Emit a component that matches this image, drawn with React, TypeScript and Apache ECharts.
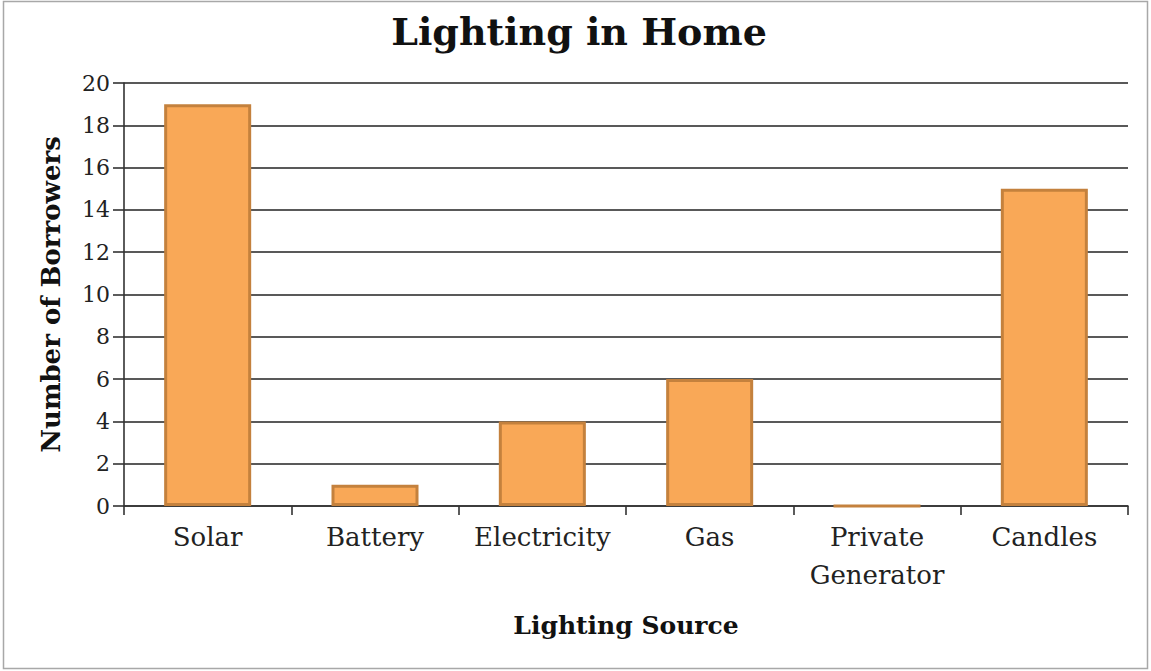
import React, { useEffect, useRef } from "react";
import * as echarts from "echarts";

const categories = ["Solar", "Battery", "Electricity", "Gas", "Private\nGenerator", "Candles"];
const borrowers = [19, 1, 4, 6, 0, 15];
const yTicks = { min: 0, max: 20, interval: 2 };

const FONT = "DejaVu Serif";

export default function App() {
  const ref = useRef<HTMLDivElement>(null);
  useEffect(() => {
    document.body.style.margin = "0";
    const chart = echarts.init(ref.current!, null, { renderer: "svg" });
    chart.setOption({
      animation: false,
      backgroundColor: "#ffffff",
      textStyle: { fontFamily: FONT },
      title: {
        text: "Lighting in Home",
        left: 574,
        textAlign: "center",
        top: 7,
        textStyle: { fontFamily: FONT, fontSize: 38, fontWeight: "bold", color: "#111" },
      },
      graphic: [
        {
          type: "rect",
          shape: { x: 3.5, y: 1.5, width: 1144, height: 667 },
          style: { fill: "none", stroke: "#a8a8a8", lineWidth: 1.5 },
          silent: true,
          z: -1,
        },
      ],
      grid: { left: 124, right: 23, top: 83, bottom: 165, containLabel: false },
      xAxis: {
        type: "category",
        data: categories,
        name: "Lighting Source",
        nameLocation: "middle",
        nameGap: 107,
        nameTextStyle: { fontFamily: FONT, fontSize: 25, fontWeight: "bold", color: "#111" },
        axisLine: { show: true, lineStyle: { color: "#333", width: 1.6 } },
        axisTick: { show: true, alignWithLabel: false, length: 9, lineStyle: { color: "#333", width: 1.6 } },
        axisLabel: { fontFamily: FONT, fontSize: 26, color: "#222", margin: 12, lineHeight: 38, interval: 0 },
        splitLine: { show: false },
      },
      yAxis: {
        type: "value",
        min: yTicks.min,
        max: yTicks.max,
        interval: yTicks.interval,
        name: "Number of Borrowers",
        nameLocation: "middle",
        nameGap: 60,
        nameTextStyle: { fontFamily: FONT, fontSize: 26, fontWeight: "bold", color: "#111" },
        axisLine: { show: true, lineStyle: { color: "#333", width: 1.6 } },
        axisTick: { show: true, inside: false, length: 11, lineStyle: { color: "#333", width: 1.6 } },
        axisLabel: { fontFamily: FONT, fontSize: 22, color: "#222", margin: 14 },
        splitLine: { show: true, lineStyle: { color: "#222", width: 1.7 } },
      },
      series: [
        {
          type: "bar",
          data: borrowers,
          barWidth: "52%",
          itemStyle: { color: "#F9A857", borderColor: "#C4813D", borderWidth: 3 },
        },
      ],
    });
    return () => chart.dispose();
  }, []);
  return <div ref={ref} style={{ width: 1151, height: 671 }} />;
}
